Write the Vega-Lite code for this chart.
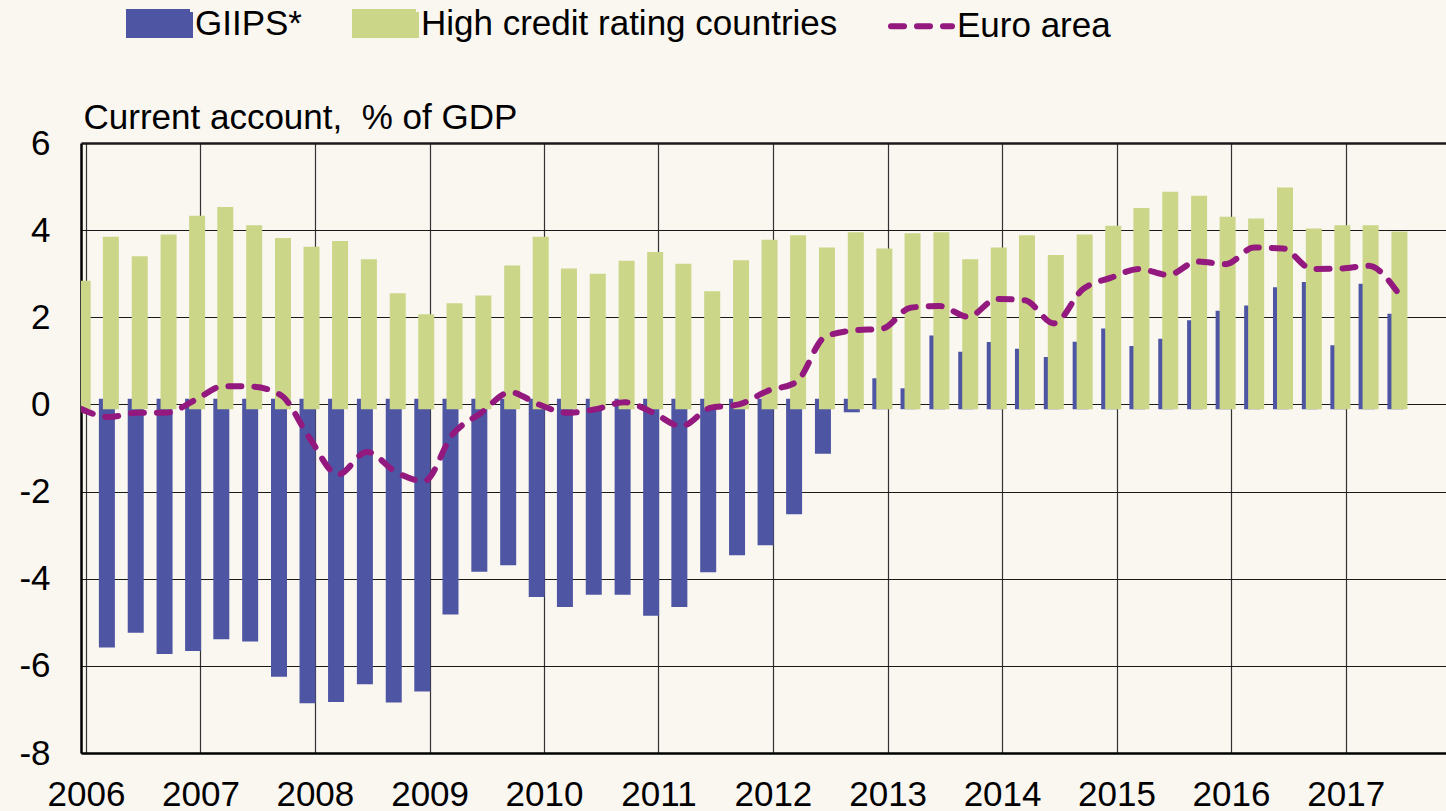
{
  "$schema": "https://vega.github.io/schema/vega-lite/v6.json",
  "autosize": {"type": "none"},
  "padding": {"left": 81, "top": 143, "right": 0, "bottom": 58},
  "width": 1365,
  "height": 610,
  "background": "#FAF6F0",
  "config": {
    "font": "Liberation Sans",
    "view": {"stroke": null}
  },
  "data": {
    "values": [
      {"date": "2005-12-15", "giips": null, "high": 2.84, "euro": -0.10},
      {"date": "2006-03-15", "giips": -5.58, "high": 3.85, "euro": -0.29},
      {"date": "2006-06-15", "giips": -5.24, "high": 3.40, "euro": -0.19},
      {"date": "2006-09-15", "giips": -5.73, "high": 3.90, "euro": -0.19},
      {"date": "2006-12-15", "giips": -5.66, "high": 4.33, "euro": 0.10},
      {"date": "2007-03-15", "giips": -5.39, "high": 4.53, "euro": 0.42},
      {"date": "2007-06-15", "giips": -5.44, "high": 4.11, "euro": 0.41},
      {"date": "2007-09-15", "giips": -6.25, "high": 3.82, "euro": 0.21},
      {"date": "2007-12-15", "giips": -6.86, "high": 3.62, "euro": -0.77},
      {"date": "2008-03-15", "giips": -6.83, "high": 3.75, "euro": -1.61},
      {"date": "2008-06-15", "giips": -6.42, "high": 3.33, "euro": -1.09},
      {"date": "2008-09-15", "giips": -6.84, "high": 2.55, "euro": -1.55},
      {"date": "2008-12-15", "giips": -6.59, "high": 2.07, "euro": -1.76},
      {"date": "2009-03-15", "giips": -4.82, "high": 2.32, "euro": -0.69},
      {"date": "2009-06-15", "giips": -3.84, "high": 2.50, "euro": -0.19},
      {"date": "2009-09-15", "giips": -3.69, "high": 3.19, "euro": 0.28},
      {"date": "2009-12-15", "giips": -4.42, "high": 3.85, "euro": 0.00},
      {"date": "2010-03-15", "giips": -4.65, "high": 3.12, "euro": -0.19},
      {"date": "2010-06-15", "giips": -4.37, "high": 3.00, "euro": -0.11},
      {"date": "2010-09-15", "giips": -4.37, "high": 3.30, "euro": 0.05},
      {"date": "2010-12-15", "giips": -4.85, "high": 3.50, "euro": -0.19},
      {"date": "2011-03-15", "giips": -4.65, "high": 3.23, "euro": -0.50},
      {"date": "2011-06-15", "giips": -3.85, "high": 2.60, "euro": -0.08},
      {"date": "2011-09-15", "giips": -3.46, "high": 3.31, "euro": 0.00},
      {"date": "2011-12-15", "giips": -3.23, "high": 3.78, "euro": 0.31},
      {"date": "2012-03-15", "giips": -2.52, "high": 3.88, "euro": 0.51},
      {"date": "2012-06-15", "giips": -1.13, "high": 3.60, "euro": 1.55},
      {"date": "2012-09-15", "giips": -0.18, "high": 3.95, "euro": 1.70},
      {"date": "2012-12-15", "giips": 0.60, "high": 3.58, "euro": 1.74},
      {"date": "2013-03-15", "giips": 0.37, "high": 3.93, "euro": 2.22},
      {"date": "2013-06-15", "giips": 1.58, "high": 3.95, "euro": 2.26},
      {"date": "2013-09-15", "giips": 1.21, "high": 3.33, "euro": 2.01},
      {"date": "2013-12-15", "giips": 1.43, "high": 3.60, "euro": 2.42},
      {"date": "2014-03-15", "giips": 1.28, "high": 3.88, "euro": 2.39},
      {"date": "2014-06-15", "giips": 1.09, "high": 3.43, "euro": 1.86},
      {"date": "2014-09-15", "giips": 1.44, "high": 3.90, "euro": 2.64},
      {"date": "2014-12-15", "giips": 1.74, "high": 4.10, "euro": 2.91},
      {"date": "2015-03-15", "giips": 1.34, "high": 4.51, "euro": 3.11},
      {"date": "2015-06-15", "giips": 1.51, "high": 4.88, "euro": 2.97},
      {"date": "2015-09-15", "giips": 1.93, "high": 4.79, "euro": 3.28},
      {"date": "2015-12-15", "giips": 2.15, "high": 4.31, "euro": 3.22},
      {"date": "2016-03-15", "giips": 2.27, "high": 4.27, "euro": 3.60},
      {"date": "2016-06-15", "giips": 2.69, "high": 4.98, "euro": 3.58},
      {"date": "2016-09-15", "giips": 2.81, "high": 4.04, "euro": 3.11},
      {"date": "2016-12-15", "giips": 1.36, "high": 4.11, "euro": 3.12},
      {"date": "2017-03-15", "giips": 2.77, "high": 4.11, "euro": 3.18},
      {"date": "2017-06-15", "giips": 2.08, "high": 3.97, "euro": 2.58}
    ]
  },
  "layer": [
    {
      "transform": [{"filter": "datum.giips != null && datum.giips < 0"}],
      "mark": {"type": "bar", "width": 16, "xOffset": -2, "clip": true},
      "encoding": {
        "x": {
          "field": "date", "type": "temporal",
          "scale": {"type": "utc", "domain": [{"year": 2006, "month": 1, "date": 1, "utc": true}, {"year": 2017, "month": 11, "date": 1, "utc": true}]},
          "axis": {
            "title": null,
            "values": [
              {"year": 2006, "month": 1, "date": 1, "utc": true},
              {"year": 2007, "month": 1, "date": 1, "utc": true},
              {"year": 2008, "month": 1, "date": 1, "utc": true},
              {"year": 2009, "month": 1, "date": 1, "utc": true},
              {"year": 2010, "month": 1, "date": 1, "utc": true},
              {"year": 2011, "month": 1, "date": 1, "utc": true},
              {"year": 2012, "month": 1, "date": 1, "utc": true},
              {"year": 2013, "month": 1, "date": 1, "utc": true},
              {"year": 2014, "month": 1, "date": 1, "utc": true},
              {"year": 2015, "month": 1, "date": 1, "utc": true},
              {"year": 2016, "month": 1, "date": 1, "utc": true},
              {"year": 2017, "month": 1, "date": 1, "utc": true}
            ],
            "format": "%Y",
            "labelFontSize": 35,
            "labelColor": "#000000",
            "labelFlush": false,
            "labelBaseline": "alphabetic",
            "labelPadding": 52,
            "labelDx": 4,
            "ticks": false,
            "tickSize": 0,
            "domain": true,
            "domainColor": "#000000",
            "domainWidth": 2.5,
            "grid": true,
            "gridColor": "#333333",
            "gridWidth": 1.2
          }
        },
        "y": {
          "field": "giips", "type": "quantitative",
          "scale": {"domain": [-8, 6], "nice": false, "zero": false},
          "axis": {
            "title": "Current account,\u00a0 % of GDP",
            "titleAngle": 0,
            "titleAlign": "left",
            "titleBaseline": "alphabetic",
            "titleX": 2,
            "titleY": -15,
            "titleFontSize": 35,
            "titleFontWeight": "normal",
            "titleColor": "#000000",
            "values": [-8, -6, -4, -2, 0, 2, 4, 6],
            "labelExpr": "datum.value < 0 ? '-' + abs(datum.value) : '' + datum.value",
            "labelFontSize": 35,
            "labelColor": "#000000",
            "labelFlush": false,
            "labelBaseline": "middle",
            "labelPadding": 31,
            "ticks": false,
            "tickSize": 0,
            "domain": true,
            "domainColor": "#000000",
            "domainWidth": 2.5,
            "grid": true,
            "gridColor": "#1a1a1a",
            "gridWidth": {"condition": {"test": "datum.value === 6", "value": 2.5}, "value": 1.2}
          }
        },
        "y2": {"datum": 0.13},
        "color": {
          "datum": "GIIPS*",
          "type": "nominal",
          "scale": {
            "domain": ["GIIPS*", "High credit rating countries", "Euro area"],
            "range": ["#4E56A4", "#CBD688", "#93197F"]
          },
          "legend": {
            "title": null,
            "orient": "none",
            "direction": "horizontal",
            "legendX": 45,
            "legendY": -153,
            "labelFontSize": 35,
            "labelColor": "#000000",
            "labelOffset": 2,
            "labelLimit": 1000,
            "columnPadding": 41,
            "padding": 0,
            "symbolSize": 3721,
            "symbolStrokeWidth": 6,
            "encode": {
              "symbols": {
                "update": {
                  "shape": {"signal": "datum.value === 'Euro area' ? 'stroke' : 'M-1,-0.377H1V0.377H-1Z'"},
                  "size": {"value": 3721},
                  "fill": {"signal": "datum.value === 'Euro area' ? 'transparent' : scale('color', datum.value)"},
                  "stroke": {"signal": "scale('color', datum.value)"},
                  "strokeWidth": {"value": 6},
                  "strokeDash": {"signal": "datum.value === 'Euro area' ? [13, 13] : [1, 0]"},
                  "strokeCap": {"signal": "datum.value === 'Euro area' ? 'round' : 'butt'"},
                  "strokeJoin": {"value": "miter"},
                  "opacity": {"value": 1}
                }
              }
            }
          }
        }
      }
    },
    {
      "transform": [{"filter": "datum.giips != null && datum.giips >= 0"}],
      "mark": {"type": "bar", "width": 16, "xOffset": -2, "clip": true},
      "encoding": {
        "x": {"field": "date", "type": "temporal"},
        "y": {"field": "giips", "type": "quantitative"},
        "y2": {"datum": -0.11},
        "color": {"datum": "GIIPS*", "type": "nominal"}
      }
    },
    {
      "mark": {"type": "bar", "width": 16, "xOffset": 2, "clip": true},
      "encoding": {
        "x": {"field": "date", "type": "temporal"},
        "y": {"field": "high", "type": "quantitative"},
        "y2": {"datum": -0.11},
        "color": {"datum": "High credit rating countries", "type": "nominal"}
      }
    },
    {
      "mark": {"type": "line", "strokeWidth": 6, "strokeDash": [13, 13], "strokeCap": "round", "interpolate": "monotone", "clip": true},
      "encoding": {
        "x": {"field": "date", "type": "temporal"},
        "y": {"field": "euro", "type": "quantitative"},
        "color": {"datum": "Euro area", "type": "nominal"}
      }
    }
  ]
}
